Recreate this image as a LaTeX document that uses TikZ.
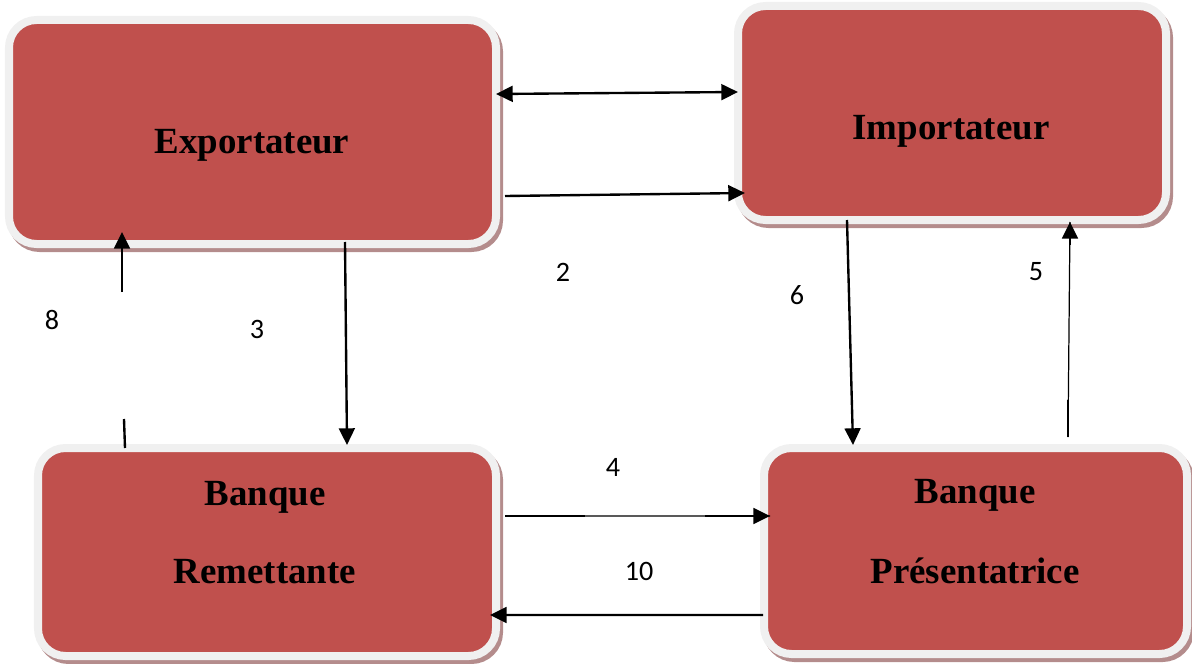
\documentclass[tikz,border=0pt]{standalone}
\usepackage{fontspec}
\setmainfont{Liberation Serif}
\newfontfamily\numfont{Carlito}
\usepackage{xcolor}
\usepackage{tikz}
\usetikzlibrary{arrows.meta,shadows,calc}

\definecolor{boxred}{HTML}{C0504D}
\definecolor{boxrim}{HTML}{F0F0F0}
\definecolor{boxshade}{HTML}{B48C8C}

\tikzset{
  acteur/.style={draw=boxrim, fill=boxred, line width=0.16cm, rounded corners=0.55cm,
    outer sep=0pt, inner sep=0pt,
    drop shadow={shadow xshift=0.06cm, shadow yshift=-0.08cm, opacity=1,
      fill=boxshade, draw=boxshade, line width=0.16cm}},
  titre/.style={font=\fontsize{21}{25}\selectfont\bfseries, anchor=base, inner sep=0pt},
  num/.style={font=\numfont\fontsize{16}{19}\selectfont, inner sep=0pt},
  fleche/.style={line width=1.35pt, -{Triangle[length=9.5pt,width=9pt]}},
  trait/.style={line width=1.35pt},
  fin/.style={line width=0.7pt}
}

\begin{document}
\begin{tikzpicture}
    \useasboundingbox (0,0) rectangle (23.84,-13.28);

    % les quatre acteurs
    \node[acteur, minimum width=9.74cm, minimum height=4.48cm] (exp) at (5.05,-2.64) {};
    \node[acteur, minimum width=8.56cm, minimum height=4.28cm] (imp) at (19.04,-2.26) {};
    \node[acteur, minimum width=9.16cm, minimum height=4.16cm] (bre) at (5.34,-11.04) {};
    \node[acteur, minimum width=8.46cm, minimum height=4.12cm] (bpr) at (19.51,-11.02) {};

    \node[titre] (expT) at (5.04,-3.08) {Exportateur};
    \node[titre] (impT) at (19.02,-2.80) {Importateur};
    \node[titre] (breT1) at (5.30,-10.10) {Banque};
    \node[titre] (breT2) at (5.30,-11.66) {Remettante};
    \node[titre] (bprT1) at (19.50,-10.06) {Banque};
    \node[titre] (bprT2) at (19.50,-11.66) {Présentatrice};

    % contrat commercial
    \draw[line width=1.35pt, {Triangle[length=9.5pt,width=9pt]}-{Triangle[length=9.5pt,width=9pt]}]
    ([yshift=0.76cm]exp.east) -- ([yshift=0.42cm]imp.west);

    % 2 : expedition
    \draw[fleche] ([xshift=0.18cm,yshift=-1.28cm]exp.east) -- ([xshift=0.14cm,yshift=-1.60cm]imp.west);

    % 3 : remise des documents
    \draw[fleche] ([xshift=1.85cm,yshift=0.04cm]exp.south) -- ([xshift=1.60cm,yshift=0.06cm]bre.north);

    % 4 : envoi a la banque presentatrice
    \coordinate (a4) at ([xshift=0.18cm,yshift=0.72cm]bre.east);
    \coordinate (b4) at ([xshift=0.12cm,yshift=0.70cm]bpr.west);
    \draw[fin] (a4) -- (b4);
    \draw[trait] (a4) -- ($(a4)+(1.60,0)$);
    \draw[fleche] ($(b4)+(-1.30,0)$) -- (b4);

    % 10 : reglement
    \draw[fleche] ([xshift=-0.02cm,yshift=-1.28cm]bpr.west) -- ([xshift=-0.12cm,yshift=-1.26cm]bre.east);

    % 6 : paiement
    \draw[fleche] ([xshift=-2.10cm]imp.south) -- ([xshift=-2.45cm,yshift=0.06cm]bpr.north);

    % 5 : documents remis
    \coordinate (a5) at ([xshift=1.85cm,yshift=0.22cm]bpr.north);
    \coordinate (b5) at ([xshift=2.36cm,yshift=-0.04cm]imp.south);
    \draw[fin] (a5) -- (b5);
    \draw[trait] (a5) -- ($(a5)+(0,0.74)$);
    \draw[fleche] ($(b5)+(0,-0.45)$) -- (b5);

    % 8 : fonds verses
    \coordinate (a8) at ([xshift=-2.84cm]bre.north);
    \coordinate (b8) at ([xshift=-2.61cm,yshift=0.24cm]exp.south);
    \draw[trait] (a8) -- ($(a8)+(-0.02,0.58)$);
    \draw[fleche] ($(b8)+(0,-1.20)$) -- (b8);

    \node[num] (n2) at (11.26,-5.44) {2};
    \node[num] (n3) at (5.14,-6.58) {3};
    \node[num] (n8) at (1.04,-6.40) {8};
    \node[num] (n6) at (15.94,-5.90) {6};
    \node[num] (n5) at (20.72,-5.44) {5};
    \node[num] (n4) at (12.26,-9.34) {4};
    \node[num] (n10) at (12.78,-11.42) {10};
\end{tikzpicture}
\end{document}
